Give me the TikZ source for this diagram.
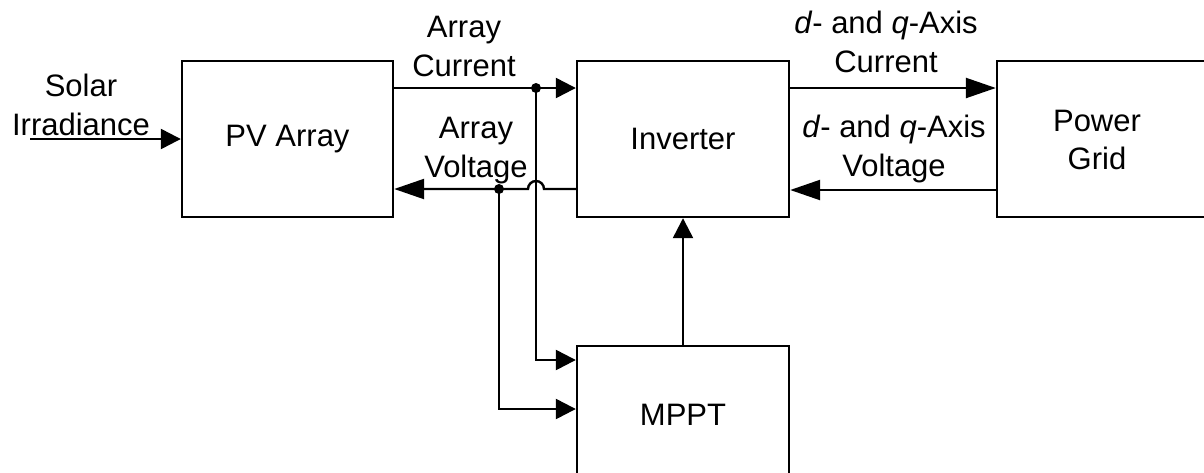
\documentclass[tikz,border=0pt]{standalone}
\usepackage{fontspec}
\setmainfont{Liberation Sans}
\usetikzlibrary{arrows.meta,calc}
\begin{document}
\begin{tikzpicture}[x=1pt,y=-1pt,
  blk/.style={draw,line width=2.4pt,minimum width=#1,minimum height=156pt,inner sep=0pt,font=\fontsize{31}{38.5}\selectfont,align=center},
  lbl/.style={font=\fontsize{31}{38.5}\selectfont,align=center,inner sep=0pt},
  wire/.style={line width=2.4pt},
  arrS/.style={wire,-{Triangle[length=20pt,width=20pt]}},
  arrL/.style={wire,-{Triangle[length=30pt,width=20pt]}},
  dot/.style={circle,fill,inner sep=0pt,minimum size=10pt}]
\useasboundingbox (0,0) rectangle (1204,472);
% blocks
\node[blk=211pt] (pv) at (287.5,139) {PV Array};
\node[blk=212pt] (inv) at (683,139) {Inverter};
\node[blk=216pt] (grid) at (1105,139) {};
\node[lbl] (gridtxt) at (1097,140) {Power\\Grid};
\node[blk=212pt,minimum height=138pt] (mppt) at (683,415) {MPPT};
% coordinates
\coordinate (sun) at (30,139);
\coordinate (jI) at (536,88);
\coordinate (jV) at (499,189);
\coordinate (yI2) at (0,360);
\coordinate (yV2) at (0,409);
\coordinate (yQ1) at (0,88);
\coordinate (yQ2) at (0,190);
% connectors
\draw[arrS] (sun) -- (pv.west |- sun);
\draw[arrS] (pv.east |- jI) -- (inv.west |- jI);
\draw[arrL] (inv.west |- jV) -- (544,189) arc[start angle=0,end angle=-180,radius=8] -- (pv.east |- jV);
\draw[arrS] (jI) |- (mppt.west |- yI2);
\draw[arrS] (jV) |- (mppt.west |- yV2);
\draw[arrS] (mppt.north) -- (inv.south);
\draw[arrL] (inv.east |- yQ1) -- (grid.west |- yQ1);
\draw[arrL] (grid.west |- yQ2) -- (inv.east |- yQ2);
\node[dot] (dI) at (jI) {};
\node[dot] (dV) at (jV) {};
% labels (anchor=base is the baseline of the last line)
\node[lbl,anchor=base] (tsun) at (81,135) {Solar\\Irradiance};
\node[lbl,anchor=base] (tcur) at (464,76) {Array\\Current};
\node[lbl,anchor=base] (tvol) at (476,177) {Array\\Voltage};
\node[lbl,anchor=base] (tdqc) at (886,72) {\textit{d}- and \textit{q}-Axis\\Current};
\node[lbl,anchor=base] (tdqv) at (894,176) {\textit{d}- and \textit{q}-Axis\\Voltage};
\end{tikzpicture}
\end{document}
